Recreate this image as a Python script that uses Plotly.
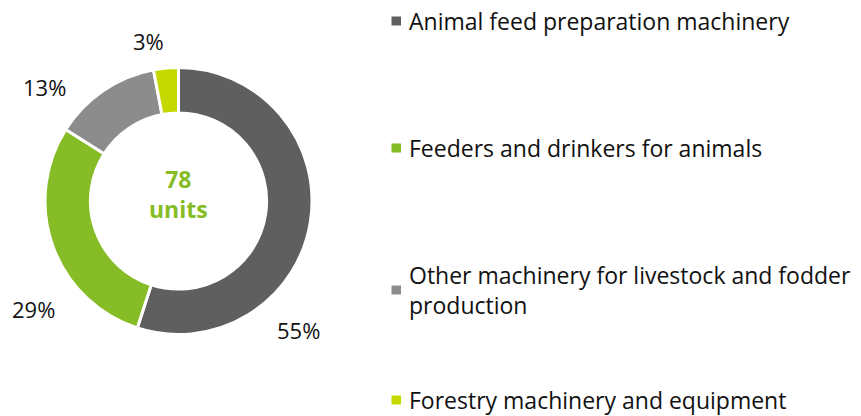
import plotly.graph_objects as go

categories = ["Animal feed preparation machinery",
              "Feeders and drinkers for animals",
              "Other machinery for livestock and fodder<br>production",
              "Forestry machinery and equipment"]
shares = [55, 29, 13, 3]
pct_labels = ["55%", "29%", "13%", "3%"]
colors = ["#5f5f5f", "#86bc25", "#8c8c8c", "#c5d800"]
total_units = 78

W, H = 861, 416
FONT = "Open Sans"
def px(x): return x / W
def py(y): return 1 - y / H

fig = go.Figure()
fig.add_trace(go.Pie(
    values=shares, labels=categories, hole=0.66, sort=False,
    direction="clockwise", rotation=0,
    marker=dict(colors=colors, line=dict(color="white", width=3)),
    textinfo="none", hoverinfo="label+percent", showlegend=False,
    domain=dict(x=[px(45), px(312)], y=[py(335), py(67)]),
))

# percentage labels
label_pos = [(298, 330), (33, 309), (44, 87), (148, 41)]
for t, (x, y) in zip(pct_labels, label_pos):
    fig.add_annotation(x=px(x), y=py(y), xref="paper", yref="paper", text=t,
                       showarrow=False, font=dict(size=22, color="#111111", family=FONT),
                       xanchor="center", yanchor="middle")

# center text
fig.add_annotation(x=px(178.5), y=py(194), xref="paper", yref="paper",
                   text=f"<b>{total_units}<br>units</b>", showarrow=False,
                   font=dict(size=23, color="#86bc25", family=FONT),
                   xanchor="center", yanchor="middle")

# manual legend
legend_y = [21, 148, 290, 400]
for cat, col, y in zip(categories, colors, legend_y):
    fig.add_shape(type="rect", xref="paper", yref="paper",
                  x0=px(391.5), x1=px(401), y0=py(y + 4.5), y1=py(y - 4.5),
                  fillcolor=col, line=dict(width=0))
    fig.add_annotation(x=px(407), y=py(y), xref="paper", yref="paper", text=cat,
                       showarrow=False, align="left", xanchor="left", yanchor="middle",
                       font=dict(size=23, color="#111111", family=FONT))

fig.update_layout(width=W, height=H, margin=dict(l=0, r=0, t=0, b=0),
                  paper_bgcolor="white", plot_bgcolor="white")
fig.write_html("out.html", config={"displayModeBar": False},
               post_script="document.body.style.margin='0';")
